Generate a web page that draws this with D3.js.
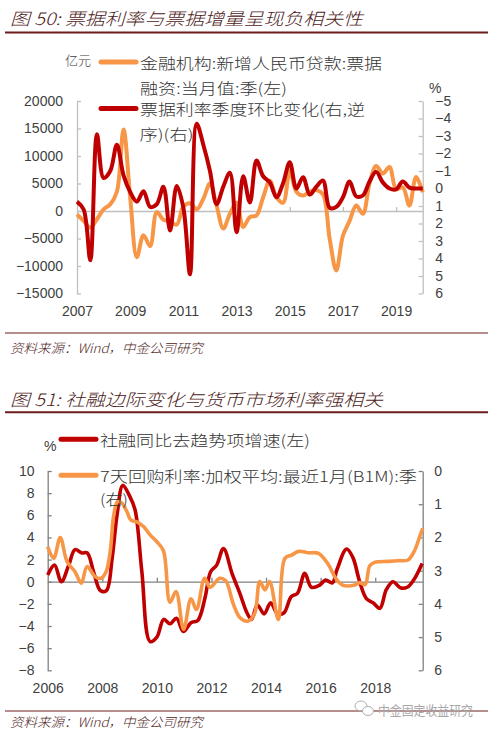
<!DOCTYPE html>
<html><head><meta charset="utf-8">
<script src="https://cdn.jsdelivr.net/npm/d3@7"></script>
<style>
body{margin:0;background:#fff;}
svg{display:block;}
</style></head>
<body><svg id="c" width="489" height="732"></svg>
<script>
// ---------- Chart 1 data (quarterly) ----------
const c1Quarters = [
 "2007Q1","2007Q2","2007Q3","2007Q4","2008Q1","2008Q2","2008Q3","2008Q4",
 "2009Q1","2009Q2","2009Q3","2009Q4","2010Q1","2010Q2","2010Q3","2010Q4",
 "2011Q1","2011Q2","2011Q3","2011Q4","2012Q1","2012Q2","2012Q3","2012Q4",
 "2013Q1","2013Q2","2013Q3","2013Q4","2014Q1","2014Q2","2014Q3","2014Q4",
 "2015Q1","2015Q2","2015Q3","2015Q4","2016Q1","2016Q2","2016Q3","2016Q4",
 "2017Q1","2017Q2","2017Q3","2017Q4","2018Q1","2018Q2","2018Q3","2018Q4",
 "2019Q1","2019Q2","2019Q3","2019Q4","2020Q1"];
// 金融机构:新增人民币贷款:票据融资:当月值:季 (亿元, left)
const c1Bill = [
 -600,-1800,-3000,-1500, 300,1200,3500,14800,
 2500,-8400,-4400,-6400, -200,-1600,-1900,-2500,
 800,1400,300,2200, 5000,1000,-3200,-500,
 1500,-2900,-1100,-800, 2500,5500,2500,1500,
 7300,3500,2800,3500, 3800,3000,-5000,-10800,
 -4500,-1800,1000,-500, 5000,8200,6800,8000,
 4000,4300,1000,6200, 3400];
// 票据利率季度环比变化 (%, right, reversed)
const c1Rate = [
 0.75,1.2,4.1,-3.1, -0.6,-1.0,-2.5,-0.75,
 0.2,0.75,0.15,1.05, 0.9,-0.1,2.4,-0.15,
 1.1,4.9,-3.7,-2.5, -1.0,0.9,-0.1,-0.9,
 2.5,-0.7,0.8,-1.6, -0.7,-0.35,0.5,-0.3,
 -1.5,0,-0.65,0.35, -0.1,-0.45,1.1,1.05,
 0.5,-0.4,0.45,0.4, -0.4,-0.95,-0.35,0,
 0.05,-0.4,-0.05,0, 0];
const c1LeftTicks = [20000,15000,10000,5000,0,-5000,-10000,-15000];
const c1RightTicks = [-5,-4,-3,-2,-1,0,1,2,3,4,5,6];
const c1YearLabels = [2007,2009,2011,2013,2015,2017,2019];

// ---------- Chart 2 data ----------
// 社融同比去趋势项增速 (%, left)
const c2SfT = [2006.0,2006.25,2006.5,2006.77,2007.0,2007.25,2007.45,2007.68,2007.93,2008.15,2008.36,2008.54,2008.75,2008.99,2009.2,2009.45,2009.75,2010.0,2010.25,2010.48,2010.72,2010.97,2011.25,2011.5,2011.76,2011.97,2012.19,2012.44,2012.76,2013.04,2013.3,2013.47,2013.68,2013.93,2014.17,2014.42,2014.66,2014.92,2015.15,2015.42,2015.66,2015.97,2016.18,2016.43,2016.6,2016.95,2017.18,2017.43,2017.67,2017.92,2018.17,2018.41,2018.65,2018.92,2019.17,2019.42,2019.72];
const c2SfV = [0.6,1.5,0,1.5,2.9,2.6,2.6,0.9,-0.8,-0.8,2.1,6.0,8.7,7.8,6.5,0.9,-5.4,-5.0,-3.4,-3.8,-3.3,-4.5,-3.7,-3.5,-1.5,0.9,1.5,3.0,0.7,-1.05,-2.8,-3.4,-2.1,-2.9,-1.9,-2.9,-2.8,-1.35,-1.05,0.75,-0.5,-0.3,0.15,-0.1,1.1,2.95,2.2,0,-1.5,-1.9,-2.4,-0.7,0,-0.55,-0.5,0.2,1.65];
// 7天回购利率:加权平均:最近1月(B1M):季 (%, right, reversed)
const c2RpT = [2006.0,2006.22,2006.46,2006.71,2007.0,2007.23,2007.44,2007.74,2007.95,2008.14,2008.29,2008.42,2008.56,2008.72,2008.9,2009.05,2009.27,2009.52,2009.76,2010.0,2010.24,2010.48,2010.7,2010.98,2011.25,2011.45,2011.75,2011.95,2012.3,2012.52,2012.8,2013.05,2013.33,2013.58,2013.77,2013.96,2014.13,2014.45,2014.69,2014.94,2015.2,2015.55,2015.92,2016.27,2016.57,2016.82,2017.25,2017.43,2017.63,2017.8,2017.98,2018.5,2018.83,2019.2,2019.44,2019.62,2019.74];
const c2RpV = [2.28,2.63,2.0,2.73,3.03,3.38,2.88,3.18,3.23,3.03,2.43,1.33,0.92,0.97,1.22,1.48,1.53,1.68,1.93,2.13,2.4,3.95,3.63,4.77,3.85,4.17,3.23,3.5,3.23,3.3,4.0,4.42,4.52,4.3,3.33,3.58,3.33,4.47,2.63,2.53,2.42,2.46,2.48,2.8,3.25,3.44,3.43,3.36,3.42,2.85,2.75,2.72,2.7,2.68,2.4,2.0,1.73];
const c2LeftTicks = [10,8,6,4,2,0,-2,-4,-6,-8];
const c2RightTicks = [0,1,2,3,4,5,6];
const c2YearLabels = [2006,2008,2010,2012,2014,2016,2018];

// ---------- drawing ----------
const ORANGE = "#f79646", RED = "#c00000";
const svg = d3.select("#c");
const numFont = "'Liberation Sans', Arial, sans-serif";
const cjkFont = "'Noto Sans CJK SC', sans-serif";
const intFmt = d3.format("d");

function header(y, lineY, txt, len){
  svg.append("text").attr("x",10).attr("y",y).attr("dominant-baseline","central")
    .attr("font-family",cjkFont).attr("font-size",17).attr("font-style","italic").attr("font-weight",300)
    .attr("fill","#4e1b1b").attr("textLength",len).attr("lengthAdjust","spacingAndGlyphs").text(txt);
  svg.append("line").attr("x1",5).attr("x2",488).attr("y1",lineY).attr("y2",lineY)
    .attr("stroke","#6e1c1c").attr("stroke-width",2);
}
function source(lineY, y){
  svg.append("line").attr("x1",5).attr("x2",488).attr("y1",lineY).attr("y2",lineY)
    .attr("stroke","#6e1c1c").attr("stroke-width",1);
  svg.append("text").attr("x",10).attr("y",y).attr("dominant-baseline","central")
    .attr("font-family",cjkFont).attr("font-size",13).attr("font-style","italic").attr("font-weight",300)
    .attr("fill","#4e1b1b").attr("textLength",193).attr("lengthAdjust","spacingAndGlyphs")
    .text("资料来源：Wind，中金公司研究");
}
function legendText(x,y,txt,len){
  svg.append("text").attr("x",x).attr("y",y).attr("dominant-baseline","central")
    .attr("font-family",cjkFont).attr("font-size",15).attr("font-weight",300).attr("fill","#333")
    .attr("textLength",len).attr("lengthAdjust","spacingAndGlyphs").text(txt);
}
function legendLine(x1,x2,y,color){
  svg.append("line").attr("x1",x1).attr("x2",x2).attr("y1",y).attr("y2",y)
    .attr("stroke",color).attr("stroke-width",5).attr("stroke-linecap","round");
}
function styleAxis(g, color){
  g.selectAll("path.domain").attr("stroke",color).attr("stroke-width",1.3);
  g.selectAll(".tick line").attr("stroke",color).attr("stroke-width",1.3);
  g.selectAll(".tick text").attr("font-family",numFont).attr("font-size",14).attr("fill","#404040");
}

// ===== Chart 1 =====
header(17, 32.5, "图 50: 票据利率与票据增量呈现负相关性", 353);
const c1T = c1Quarters.map(q => +q.slice(0,4) + (+q.slice(5)-1)/4);
const x1 = d3.scaleLinear().domain([2007,2020]).range([77,422.7]);
const yL1 = d3.scaleLinear().domain([-15000,20000]).range([293.5,101]);
const yR1 = d3.scaleLinear().domain([-5,6]).range([101,293.5]);
const ax1c = "#bfbfbf";

let g = svg.append("g").attr("transform","translate(77,0)")
  .call(d3.axisLeft(yL1).tickValues(c1LeftTicks).tickSize(-4).tickSizeOuter(0).tickPadding(14).tickFormat(intFmt));
styleAxis(g, ax1c);
g = svg.append("g").attr("transform","translate(422.7,0)")
  .call(d3.axisRight(yR1).tickValues(c1RightTicks).tickSize(-4).tickSizeOuter(0).tickPadding(12.5).tickFormat(intFmt));
styleAxis(g, ax1c);
g = svg.append("g").attr("transform",`translate(0,${yL1(0)})`)
  .call(d3.axisBottom(x1).tickValues(c1YearLabels.slice(1)).tickSize(-4).tickSizeOuter(0).tickFormat(""));
styleAxis(g, ax1c);
g = svg.append("g").attr("transform","translate(0,293.5)")
  .call(d3.axisBottom(x1).tickValues(c1YearLabels).tickSize(0).tickPadding(13).tickFormat(intFmt));
g.select("path.domain").remove();
styleAxis(g, ax1c);

const curve = d3.curveCatmullRom.alpha(0.5);
svg.append("path").datum(c1T.map((t,i)=>[t,c1Bill[i]]))
  .attr("d", d3.line().x(d=>x1(d[0])).y(d=>yL1(d[1])).curve(curve))
  .attr("fill","none").attr("stroke",ORANGE).attr("stroke-width",4).attr("stroke-linejoin","round");
svg.append("path").datum(c1T.map((t,i)=>[t,c1Rate[i]]))
  .attr("d", d3.line().x(d=>x1(d[0])).y(d=>yR1(d[1])).curve(curve))
  .attr("fill","none").attr("stroke",RED).attr("stroke-width",4).attr("stroke-linejoin","round");

// legend 1
svg.append("text").attr("x",65).attr("y",59).attr("dominant-baseline","central")
  .attr("font-family",cjkFont).attr("font-size",13).attr("font-weight",300).attr("fill","#404040").text("亿元");
svg.append("text").attr("x",429).attr("y",88).attr("dominant-baseline","central")
  .attr("font-family",numFont).attr("font-size",14).attr("fill","#404040").text("%");
legendLine(101,136,62,ORANGE);
legendText(140,62,"金融机构:新增人民币贷款:票据",242);
legendText(140,87,"融资:当月值:季(左)",147);
legendLine(101,136,108.5,RED);
legendText(140,108.5,"票据利率季度环比变化(右,逆",225);
legendText(139.5,133.5,"序)(右)",54);
source(333, 347);

// ===== Chart 2 =====
header(398.3, 412.3, "图 51: 社融边际变化与货币市场利率强相关", 373);
const x2 = d3.scaleLinear().domain([2006,2019.74]).range([47.7,422.7]);
const yL2 = d3.scaleLinear().domain([-8,10]).range([670.3,471]);
const yR2 = d3.scaleLinear().domain([0,6]).range([471,670.3]);
const ax2c = "#808080";

g = svg.append("g").attr("transform","translate(47.7,0)")
  .call(d3.axisLeft(yL2).tickValues(c2LeftTicks).tickSize(-4).tickSizeOuter(0).tickPadding(13.2).tickFormat(intFmt));
styleAxis(g, ax2c);
g = svg.append("g").attr("transform","translate(422.7,0)")
  .call(d3.axisRight(yR2).tickValues(c2RightTicks).tickSize(-4).tickSizeOuter(0).tickPadding(11.5).tickFormat(intFmt));
styleAxis(g, ax2c);
g = svg.append("g").attr("transform",`translate(0,${yL2(0)})`)
  .call(d3.axisBottom(x2).tickValues(c2YearLabels.slice(1)).tickSize(-4).tickSizeOuter(0).tickFormat(""));
styleAxis(g, ax2c);
g = svg.append("g").attr("transform","translate(0,670.3)")
  .call(d3.axisBottom(x2).tickValues(c2YearLabels).tickSize(0).tickPadding(13).tickFormat(intFmt));
g.select("path.domain").remove();
styleAxis(g, ax2c);

svg.append("path").datum(c2SfT.map((t,i)=>[t,c2SfV[i]]))
  .attr("d", d3.line().x(d=>x2(d[0])).y(d=>yL2(d[1])).curve(curve))
  .attr("fill","none").attr("stroke",RED).attr("stroke-width",3.6).attr("stroke-linejoin","round");
svg.append("path").datum(c2RpT.map((t,i)=>[t,c2RpV[i]]))
  .attr("d", d3.line().x(d=>x2(d[0])).y(d=>yR2(d[1])).curve(curve))
  .attr("fill","none").attr("stroke",ORANGE).attr("stroke-width",3.6).attr("stroke-linejoin","round");

svg.append("text").attr("x",44).attr("y",446).attr("dominant-baseline","central")
  .attr("font-family",numFont).attr("font-size",14).attr("fill","#404040").text("%");
legendLine(61,96,439.3,RED);
legendText(100,439.3,"社融同比去趋势项增速(左)",210);
legendLine(61,96,475.3,ORANGE);
legendText(100,475.3,"7天回购利率:加权平均:最近1月(B1M):季",317);
legendText(100,498.3,"(右)",28);
source(711, 721.7);

// watermark
const wm = svg.append("g").attr("fill","none").attr("stroke","#b0b0b0").attr("stroke-width",1);
wm.append("ellipse").attr("cx",361).attr("cy",706).attr("rx",6).attr("ry",5);
wm.append("ellipse").attr("cx",368).attr("cy",711).attr("rx",5.5).attr("ry",4.5).attr("fill","#fff");
svg.append("text").attr("x",378).attr("y",709).attr("dominant-baseline","central")
  .attr("font-family",cjkFont).attr("font-size",13).attr("fill","#a8a8a8")
  .attr("textLength",95).attr("lengthAdjust","spacingAndGlyphs").text("中金固定收益研究");
</script>
</body></html>
